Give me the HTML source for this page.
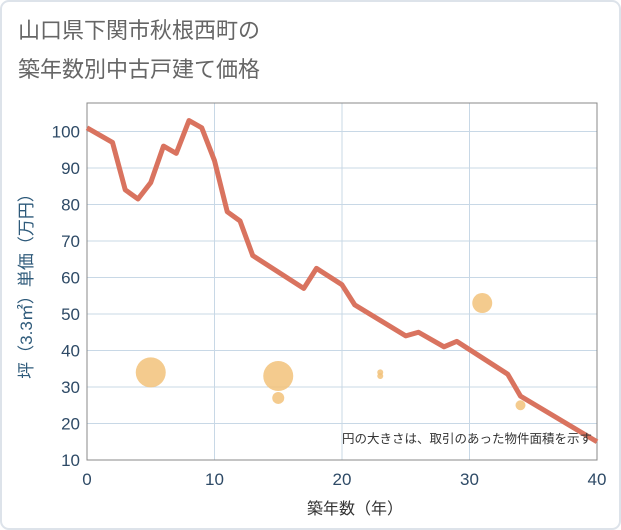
<!DOCTYPE html>
<html><head><meta charset="utf-8"><style>
body{margin:0;background:#fff;}
svg{display:block;font-family:"Liberation Sans","Noto Sans CJK JP",sans-serif;}
</style></head><body>
<svg width="621" height="530">
<rect x="1" y="1" width="619" height="528" rx="8" fill="#fff" stroke="#dde3ea" stroke-width="2"/>
<text x="18" y="38" font-size="22" fill="#666">山口県下関市秋根西町の</text>
<text x="18" y="77" font-size="22" fill="#666">築年数別中古戸建て価格</text>
<g id="grid"></g>
<rect x="87" y="103" width="510" height="357" fill="none" stroke="#888" stroke-width="1"/>
<g id="bubbles"></g>
<path id="line" fill="none" stroke="#d9735f" stroke-width="5" stroke-linejoin="round"/>
<g id="ticks"></g>
<text x="592" y="443" font-size="12.5" fill="#333" text-anchor="end">円の大きさは、取引のあった物件面積を示す</text>
<text x="355" y="514" font-size="16" fill="#333" text-anchor="middle">築年数（年）</text>
<text transform="translate(32,282) rotate(-90)" font-size="17" fill="#2e5a7a" text-anchor="middle">坪（3.3㎡）単価（万円）</text>
</svg>
<script>
const lineX=[0,2,3,4,5,6,7,8,9,10,11,12,13,17,18,20,21,25,26,28,29,33,34,40];
const lineY=[101,97,84,81.5,86,96,94,103,101,92,78,75.5,66,57,62.5,58,52.5,44,45,41,42.5,33.5,27.5,15];
const bubX=[5,15,15,23,23,31,34];
const bubY=[34,33,27,34,33,53,25];
const bubR=[15,15,6,3,3,10,5];
const xTicks=[0,10,20,30,40];
const yTicks=[10,20,30,40,50,60,70,80,90,100];
const sx=v=>87+v*510/40, sy=v=>460-(v-10)*357/97.8;
const NS="http://www.w3.org/2000/svg";
const g=document.getElementById('grid'),t=document.getElementById('ticks'),b=document.getElementById('bubbles');
function mk(tag,attrs,parent){const e=document.createElementNS(NS,tag);for(const k in attrs)e.setAttribute(k,attrs[k]);parent.appendChild(e);return e;}
yTicks.forEach(v=>{
 const l=mk('line',{x1:87,x2:597,y1:sy(v),y2:sy(v),stroke:'#c8d8e6'},g);
 
 
 const tx=mk('text',{x:80,y:sy(v)+6,'font-size':17,fill:'#2e4a66','text-anchor':'end'},t);
 tx.textContent=v;
 
 
});
xTicks.forEach(v=>{
 const l=mk('line',{x1:sx(v),x2:sx(v),y1:103,y2:460,stroke:'#c8d8e6'},g);
 
 
 const tx=mk('text',{x:sx(v),y:485,'font-size':17,fill:'#2e4a66','text-anchor':'middle'},t);
 tx.textContent=v;
 
 
});
bubX.forEach((x,i)=>{
 const c=mk('circle',{cx:sx(x),cy:sy(bubY[i]),r:bubR[i],fill:'#f2c27a','fill-opacity':0.85},b);
 
 
});
document.getElementById('line').setAttribute('d',lineX.map((x,i)=>(i?'L':'M')+sx(x)+' '+sy(lineY[i])).join(' '));
</script>
</body></html>
